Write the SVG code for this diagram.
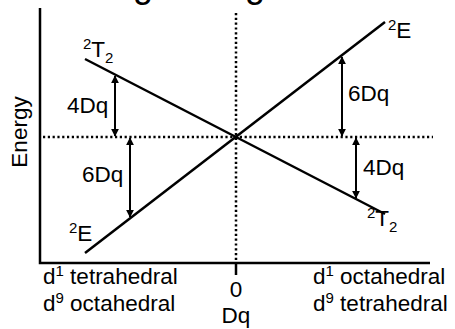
<svg xmlns="http://www.w3.org/2000/svg" width="455" height="329" viewBox="0 0 455 329">
<defs>
<marker id="ah" viewBox="0 0 10 10" refX="9" refY="5" markerWidth="4" markerHeight="4" orient="auto-start-reverse" markerUnits="strokeWidth">
<path d="M0,0 L10,5 L0,10 Z" fill="#000"/>
</marker>
<style>
text{font-family:"Liberation Sans",Arial,sans-serif;font-size:22.5px;fill:#000}
.ax{stroke:#000;stroke-width:2.5;fill:none}
.dot{stroke:#000;stroke-width:2.5;stroke-dasharray:2.2 2.6;fill:none}
.ln{stroke:#000;stroke-width:2.5;fill:none}
.arr{stroke:#000;stroke-width:2;fill:none;marker-start:url(#ah);marker-end:url(#ah)}
.sup{font-size:15px}
</style>
</defs>
<rect width="455" height="329" fill="#fff"/>
<text id="title" x="93" y="-3" style="font-size:36px">Orgel Diagram</text>
<g id="axes">
<path class="ax" d="M40,8 V263 H430"/>
<path class="ax" d="M236,263 V275"/>
<path class="dot" d="M236,13 V262"/>
<path class="dot" d="M43,137 H433"/>
</g>
<g id="connectors">
<path id="T2line" class="ln" d="M85,59 L385,214"/>
<path id="Eline" class="ln" d="M85,253 L385,22"/>
<path class="arr" d="M115,76 V136"/>
<path class="arr" d="M130,138 V217"/>
<path class="arr" d="M342,57 V136"/>
<path class="arr" d="M356,138 V198"/>
</g>
<g id="labels">
<text x="83" y="57"><tspan class="sup" dy="-8">2</tspan><tspan dy="8">T</tspan><tspan class="sup" dy="6">2</tspan></text>
<text x="388" y="38"><tspan class="sup" dy="-8">2</tspan><tspan dy="8">E</tspan></text>
<text x="69" y="241"><tspan class="sup" dy="-8">2</tspan><tspan dy="8">E</tspan></text>
<text x="367" y="226"><tspan class="sup" dy="-8">2</tspan><tspan dy="8">T</tspan><tspan class="sup" dy="6">2</tspan></text>
<text x="67" y="113">4Dq</text>
<text x="82" y="182">6Dq</text>
<text x="348" y="101">6Dq</text>
<text x="363" y="175">4Dq</text>
<text transform="translate(27,132) rotate(-90)" text-anchor="middle">Energy</text>
</g>
<g id="xlabels">
<text x="43" y="284">d<tspan class="sup" dy="-8">1</tspan><tspan dy="8"> tetrahedral</tspan></text>
<text x="43" y="311">d<tspan class="sup" dy="-8">9</tspan><tspan dy="8"> octahedral</tspan></text>
<text x="313" y="284">d<tspan class="sup" dy="-8">1</tspan><tspan dy="8"> octahedral</tspan></text>
<text x="313" y="311">d<tspan class="sup" dy="-8">9</tspan><tspan dy="8"> tetrahedral</tspan></text>
<text x="236" y="297" text-anchor="middle">0</text>
<text x="236" y="323" text-anchor="middle">Dq</text>
</g>
</svg>
